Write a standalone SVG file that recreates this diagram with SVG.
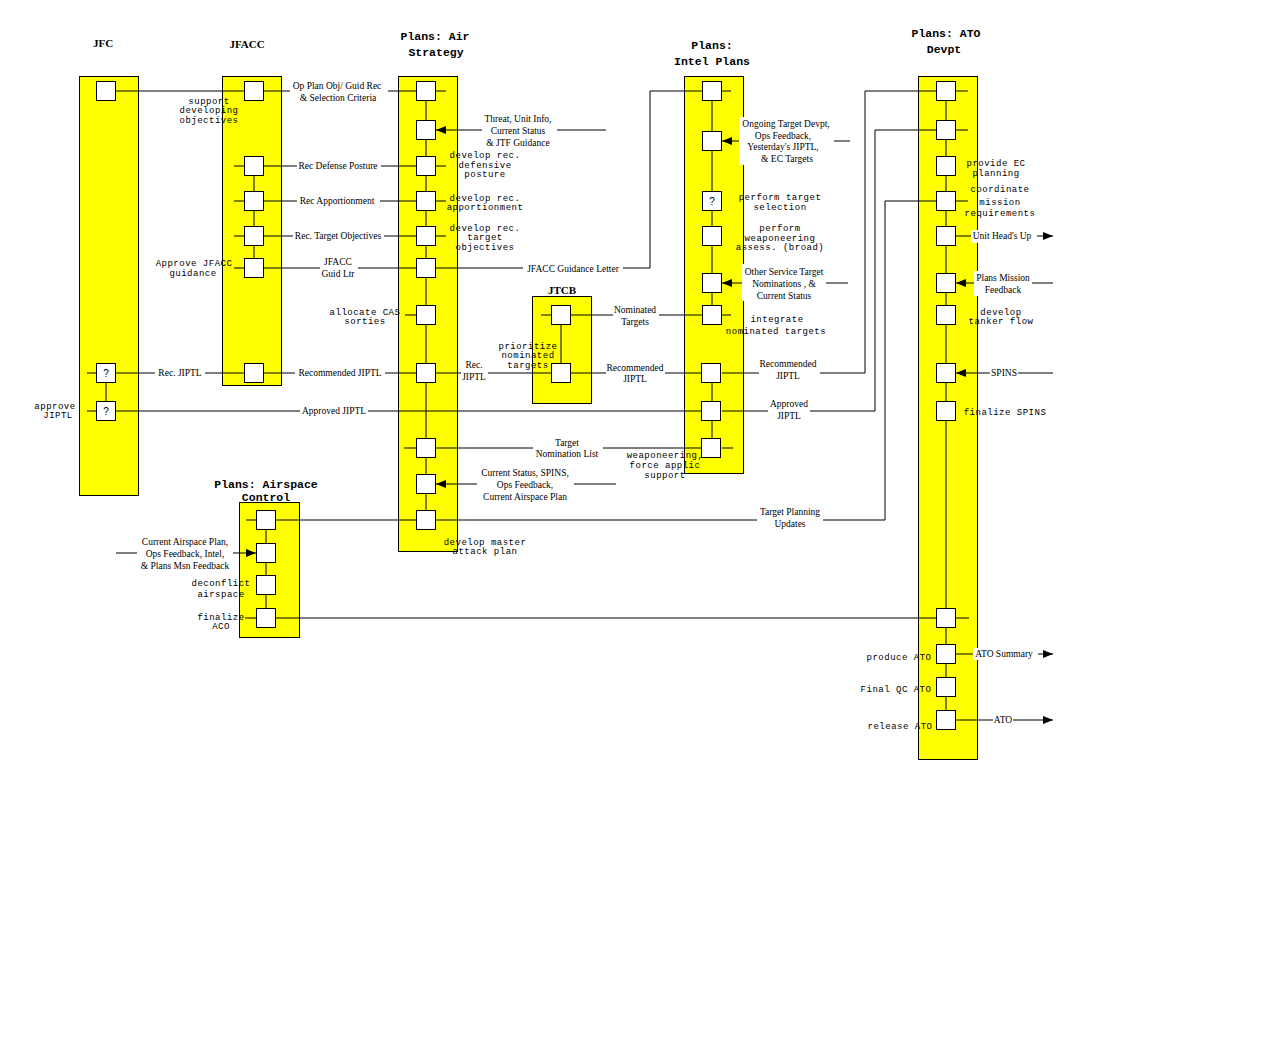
<svg xmlns="http://www.w3.org/2000/svg" width="1280" height="1064" viewBox="0 0 1280 1064">
<style>
.lane{fill:#ffff00;stroke:#000;stroke-width:1}
.box{fill:#fff;stroke:#000;stroke-width:1}
.ln{fill:none;stroke:#000;stroke-width:1}
.arr{marker-end:url(#ah)}
.bg{fill:#fff}
.tm{font-family:"Liberation Mono","DejaVu Sans Mono",monospace;font-size:9px;letter-spacing:0.5px;text-anchor:middle;fill:#000}
.ts{font-family:"Liberation Serif","DejaVu Serif",serif;font-size:9.5px;text-anchor:middle;fill:#000}
.tt{font-family:"Liberation Mono","DejaVu Sans Mono",monospace;font-size:11.5px;font-weight:bold;text-anchor:middle;fill:#000}
.tb{font-family:"Liberation Serif","DejaVu Serif",serif;font-size:11px;font-weight:bold;text-anchor:middle;fill:#000}
.q{font-family:"Liberation Sans","DejaVu Sans",sans-serif;font-size:10px;text-anchor:middle;fill:#000}
</style>
<defs>
<marker id="ah" markerUnits="userSpaceOnUse" markerWidth="10" markerHeight="8" refX="10" refY="4" orient="auto"><path d="M0,0 L10,4 L0,8 z" fill="#000"/></marker>
</defs>
<rect width="1280" height="1064" fill="#fff"/>

<g id="lanes">
<rect class="lane" x="79.5" y="76.5" width="59" height="419"/>
<rect class="lane" x="222.5" y="76.5" width="59" height="309"/>
<rect class="lane" x="398.5" y="76.5" width="59" height="475"/>
<rect class="lane" x="532.5" y="296.5" width="59" height="107"/>
<rect class="lane" x="684.5" y="76.5" width="59" height="397"/>
<rect class="lane" x="918.5" y="76.5" width="59" height="683"/>
<rect class="lane" x="239.5" y="502.5" width="60" height="135"/>
<text class="tb" x="103" y="47">JFC</text>
<text class="tb" x="247" y="48">JFACC</text>
<text class="tt" x="435" y="40">Plans: Air</text>
<text class="tt" x="436" y="56">Strategy</text>
<text class="tb" x="562" y="294">JTCB</text>
<text class="tt" x="712" y="49">Plans:</text>
<text class="tt" x="712" y="65">Intel Plans</text>
<text class="tt" x="946" y="37">Plans: ATO</text>
<text class="tt" x="944" y="53">Devpt</text>
<text class="tt" x="266" y="488">Plans: Airspace</text>
<text class="tt" x="266" y="501">Control</text>
</g>

<g id="connectors">
<path class="ln" d="M116 91H244 M106 373V411 M87 373H96 M87 411H96 M116 373H155 M205 373H244 M116 411H300 M368 411H702"/>
<path class="ln" d="M254 166V268 M234 166H244 M234 201H244 M234 236H244 M234 268H244"/>
<path class="ln" d="M264 91H290 M388 91H416 M264 166H297 M381 166H416 M264 201H297 M380 201H416 M264 236H293 M384 236H416 M264 268H320 M358 268H416 M264 373H295 M385 373H416"/>
<path class="ln" d="M426 91V520 M436 91H446 M436 166H446 M436 201H446 M436 236H446 M405 315H416 M404 448H416"/>
<path class="ln" d="M606 130H557"/><path class="ln arr" d="M482 130H436"/>
<path class="ln" d="M436 268H523 M623 268H650V91H702"/>
<path class="ln" d="M436 373H461 M488 373H551"/>
<path class="ln" d="M561 315V373 M541 315H551 M571 315H613 M659 315H702 M571 373H606 M665 373H702"/>
<path class="ln" d="M436 448H533 M603 448H702"/>
<path class="ln" d="M616 484H574"/><path class="ln arr" d="M477 484H436"/>
<path class="ln" d="M276 520H757 M823 520H885V201H936"/>
<path class="ln" d="M712 91V315 M712 373V448 M722 91H731 M722 315H731 M722 448H733"/>
<path class="ln" d="M850 141H833"/><path class="ln arr" d="M739 141H722"/>
<path class="ln" d="M848 283H826"/><path class="ln arr" d="M742 283H722"/>
<path class="ln" d="M722 373H759 M820 373H865V91H936 M722 411H768 M810 411H875V130H936"/>
<path class="ln" d="M946 91V720 M956 91H968 M956 130H968 M956 201H968 M956 618H969"/>
<path class="ln" d="M956 236H971"/><path class="ln arr" d="M1037 236H1053"/>
<path class="ln" d="M1053 283H1032"/><path class="ln arr" d="M974 283H956"/>
<path class="ln" d="M1053 373H1018"/><path class="ln arr" d="M990 373H956"/>
<path class="ln" d="M956 654H973"/><path class="ln arr" d="M1038 654H1053"/>
<path class="ln" d="M956 720H993"/><path class="ln arr" d="M1013 720H1053"/>
<path class="ln" d="M266 520V618 M246 520H256 M245 618H256 M276 618H936 M116 553H137"/>
<path class="ln arr" d="M233 553H256"/>
</g>

<g id="label-bg">
<rect class="bg" x="739" y="117" width="95" height="48"/>
<rect class="bg" x="742" y="264" width="84" height="37"/>
<rect class="bg" x="974" y="271" width="58" height="25"/>
<rect class="bg" x="971" y="230" width="61" height="13"/>
<rect class="bg" x="973" y="648" width="63" height="12"/>
</g>

<g id="jfc">
<rect class="box" x="96.5" y="81.5" width="19" height="19"/>
<rect class="box" x="96.5" y="363.5" width="19" height="19"/><text class="q" x="106" y="377">?</text>
<rect class="box" x="96.5" y="401.5" width="19" height="19"/><text class="q" x="106" y="415">?</text>
<text class="tm" x="55" y="409">approve</text><text class="tm" x="58" y="418">JIPTL</text>
</g>

<g id="jfacc">
<rect class="box" x="244.5" y="81.5" width="19" height="19"/>
<rect class="box" x="244.5" y="156.5" width="19" height="19"/>
<rect class="box" x="244.5" y="191.5" width="19" height="19"/>
<rect class="box" x="244.5" y="226.5" width="19" height="19"/>
<rect class="box" x="244.5" y="258.5" width="19" height="19"/>
<rect class="box" x="244.5" y="363.5" width="19" height="19"/>
<text class="tm" x="209" y="104">support</text><text class="tm" x="209" y="113">developing</text><text class="tm" x="209" y="123">objectives</text>
<text class="tm" x="194" y="266">Approve JFACC</text><text class="tm" x="193" y="276">guidance</text>
</g>

<g id="air-strategy">
<rect class="box" x="416.5" y="81.5" width="19" height="19"/>
<rect class="box" x="416.5" y="120.5" width="19" height="19"/>
<rect class="box" x="416.5" y="156.5" width="19" height="19"/>
<rect class="box" x="416.5" y="191.5" width="19" height="19"/>
<rect class="box" x="416.5" y="226.5" width="19" height="19"/>
<rect class="box" x="416.5" y="258.5" width="19" height="19"/>
<rect class="box" x="416.5" y="305.5" width="19" height="19"/>
<rect class="box" x="416.5" y="363.5" width="19" height="19"/>
<rect class="box" x="416.5" y="438.5" width="19" height="19"/>
<rect class="box" x="416.5" y="474.5" width="19" height="19"/>
<rect class="box" x="416.5" y="510.5" width="19" height="19"/>
<text class="tm" x="485" y="158">develop rec.</text><text class="tm" x="485" y="168">defensive</text><text class="tm" x="485" y="177">posture</text>
<text class="tm" x="485" y="201">develop rec.</text><text class="tm" x="485" y="210">apportionment</text>
<text class="tm" x="485" y="231">develop rec.</text><text class="tm" x="485" y="240">target</text><text class="tm" x="485" y="250">objectives</text>
<text class="tm" x="365" y="315">allocate CAS</text><text class="tm" x="365" y="324">sorties</text>
<text class="tm" x="485" y="545">develop master</text><text class="tm" x="485" y="554">attack plan</text>
</g>

<g id="jtcb">
<rect class="box" x="551.5" y="305.5" width="19" height="19"/>
<rect class="box" x="551.5" y="363.5" width="19" height="19"/>
<text class="tm" x="528" y="349">prioritize</text><text class="tm" x="528" y="358">nominated</text><text class="tm" x="528" y="368">targets</text>
</g>

<g id="intel-plans">
<rect class="box" x="702.5" y="81.5" width="19" height="19"/>
<rect class="box" x="702.5" y="131.5" width="19" height="19"/>
<rect class="box" x="702.5" y="191.5" width="19" height="19"/><text class="q" x="712" y="205">?</text>
<rect class="box" x="702.5" y="226.5" width="19" height="19"/>
<rect class="box" x="702.5" y="273.5" width="19" height="19"/>
<rect class="box" x="702.5" y="305.5" width="19" height="19"/>
<rect class="box" x="701.5" y="363.5" width="19" height="19"/>
<rect class="box" x="701.5" y="401.5" width="19" height="19"/>
<rect class="box" x="701.5" y="438.5" width="19" height="19"/>
<text class="tm" x="780" y="200">perform target</text><text class="tm" x="780" y="210">selection</text>
<text class="tm" x="780" y="231">perform</text><text class="tm" x="780" y="241">weaponeering</text><text class="tm" x="780" y="250">assess. (broad)</text>
<text class="tm" x="777" y="322">integrate</text><text class="tm" x="776" y="334">nominated targets</text>
<text class="tm" x="665" y="458">weaponeering,</text><text class="tm" x="665" y="468">force applic</text><text class="tm" x="665" y="478">support</text>
</g>

<g id="ato-devpt">
<rect class="box" x="936.5" y="81.5" width="19" height="19"/>
<rect class="box" x="936.5" y="120.5" width="19" height="19"/>
<rect class="box" x="936.5" y="156.5" width="19" height="19"/>
<rect class="box" x="936.5" y="191.5" width="19" height="19"/>
<rect class="box" x="936.5" y="226.5" width="19" height="19"/>
<rect class="box" x="936.5" y="273.5" width="19" height="19"/>
<rect class="box" x="936.5" y="305.5" width="19" height="19"/>
<rect class="box" x="936.5" y="363.5" width="19" height="19"/>
<rect class="box" x="936.5" y="401.5" width="19" height="19"/>
<rect class="box" x="936.5" y="608.5" width="19" height="19"/>
<rect class="box" x="936.5" y="644.5" width="19" height="19"/>
<rect class="box" x="936.5" y="677.5" width="19" height="19"/>
<rect class="box" x="936.5" y="710.5" width="19" height="19"/>
<text class="tm" x="996" y="166">provide EC</text><text class="tm" x="996" y="176">planning</text>
<text class="tm" x="1000" y="192">coordinate</text><text class="tm" x="1000" y="205">mission</text><text class="tm" x="1000" y="216">requirements</text>
<text class="tm" x="1001" y="315">develop</text><text class="tm" x="1001" y="324">tanker flow</text>
<text class="tm" x="1005" y="415">finalize SPINS</text>
<text class="tm" x="899" y="660">produce ATO</text>
<text class="tm" x="896" y="692">Final QC ATO</text>
<text class="tm" x="900" y="729">release ATO</text>
</g>

<g id="airspace-control">
<rect class="box" x="256.5" y="510.5" width="19" height="19"/>
<rect class="box" x="256.5" y="543.5" width="19" height="19"/>
<rect class="box" x="256.5" y="575.5" width="19" height="19"/>
<rect class="box" x="256.5" y="608.5" width="19" height="19"/>
<text class="tm" x="221" y="586">deconflict</text><text class="tm" x="221" y="597">airspace</text>
<text class="tm" x="221" y="620">finalize</text><text class="tm" x="221" y="629">ACO</text>
</g>

<g id="connector-labels">
<text class="ts" x="337" y="89">Op Plan Obj/ Guid Rec</text><text class="ts" x="338" y="101">&amp; Selection Criteria</text>
<text class="ts" x="338" y="169">Rec Defense Posture</text>
<text class="ts" x="337" y="204">Rec Apportionment</text>
<text class="ts" x="338" y="239">Rec. Target Objectives</text>
<text class="ts" x="338" y="265">JFACC</text><text class="ts" x="338" y="277">Guid Ltr</text>
<text class="ts" x="573" y="272">JFACC Guidance Letter</text>
<text class="ts" x="518" y="122">Threat, Unit Info,</text><text class="ts" x="518" y="134">Current Status</text><text class="ts" x="518" y="146">&amp; JTF Guidance</text>
<text class="ts" x="180" y="376">Rec. JIPTL</text>
<text class="ts" x="340" y="376">Recommended JIPTL</text>
<text class="ts" x="334" y="414">Approved JIPTL</text>
<text class="ts" x="474" y="368">Rec.</text><text class="ts" x="474" y="380">JIPTL</text>
<text class="ts" x="635" y="313">Nominated</text><text class="ts" x="635" y="325">Targets</text>
<text class="ts" x="635" y="371">Recommended</text><text class="ts" x="635" y="382">JIPTL</text>
<text class="ts" x="788" y="367">Recommended</text><text class="ts" x="788" y="379">JIPTL</text>
<text class="ts" x="789" y="407">Approved</text><text class="ts" x="789" y="419">JIPTL</text>
<text class="ts" x="567" y="446">Target</text><text class="ts" x="567" y="457">Nomination List</text>
<text class="ts" x="525" y="476">Current Status, SPINS,</text><text class="ts" x="525" y="488">Ops Feedback,</text><text class="ts" x="525" y="500">Current Airspace Plan</text>
<text class="ts" x="790" y="515">Target Planning</text><text class="ts" x="790" y="527">Updates</text>
<text class="ts" x="786" y="127">Ongoing Target Devpt,</text><text class="ts" x="783" y="139">Ops Feedback,</text><text class="ts" x="783" y="150">Yesterday's JIPTL,</text><text class="ts" x="787" y="162">&amp; EC Targets</text>
<text class="ts" x="784" y="275">Other Service Target</text><text class="ts" x="784" y="287">Nominations , &amp;</text><text class="ts" x="784" y="299">Current Status</text>
<text class="ts" x="1002" y="239">Unit Head's Up</text>
<text class="ts" x="1003" y="281">Plans Mission</text><text class="ts" x="1003" y="293">Feedback</text>
<text class="ts" x="1004" y="376">SPINS</text>
<text class="ts" x="1004" y="657">ATO Summary</text>
<text class="ts" x="1003" y="723">ATO</text>
<text class="ts" x="185" y="545">Current Airspace Plan,</text><text class="ts" x="185" y="557">Ops Feedback, Intel,</text><text class="ts" x="185" y="569">&amp; Plans Msn Feedback</text>
</g>
</svg>
